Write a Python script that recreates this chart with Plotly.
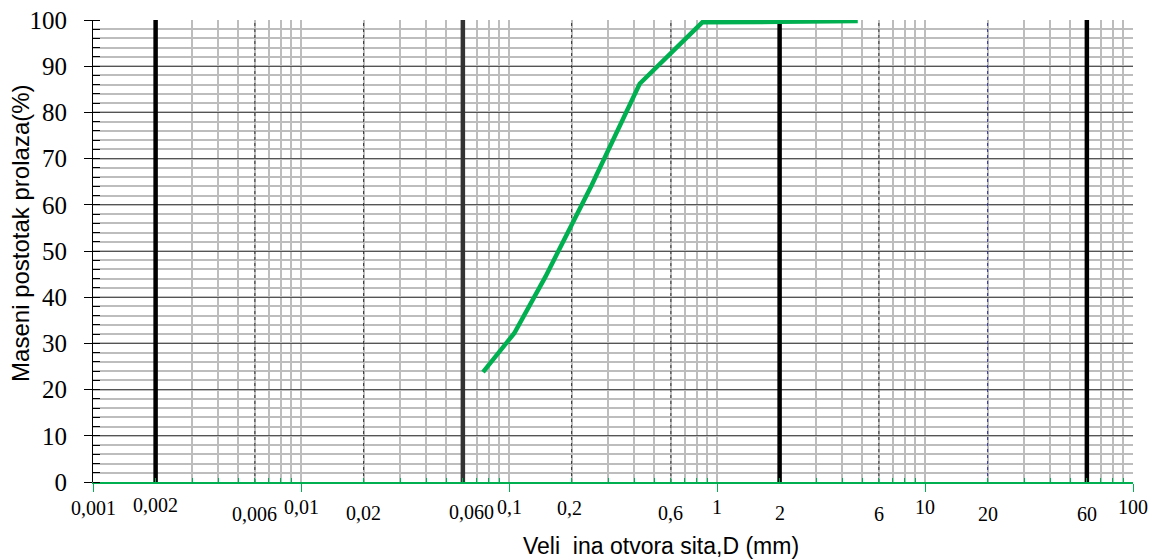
import math
import plotly.graph_objects as go

# ---------------- data ----------------
sieve_mm = [0.075, 0.106, 0.15, 0.25, 0.425, 0.85, 2.0, 4.75]
passing_pct = [23.8, 32.2, 44.5, 64.3, 86.2, 99.5, 99.6, 99.8]

x_tick_values = [0.001, 0.002, 0.006, 0.01, 0.02, 0.06, 0.1, 0.2, 0.6, 1, 2, 6, 10, 20, 60, 100]
x_tick_labels = ["0,001", "0,002", "0,006", "0,01", "0,02", "0,060", "0,1", "0,2",
                 "0,6", "1", "2", "6", "10", "20", "60", "100"]
y_tick_values = list(range(0, 101, 10))

decades = [0.001, 0.01, 0.1, 1, 10, 100]
minor_x_values = [m * d for d in decades[:-1] for m in range(2, 10)]

boundary_thick_black = [0.002, 2, 60]
boundary_thick_dark = [0.06]
boundary_dotted_dark = [0.006, 0.02, 0.2, 0.6, 6]
boundary_dotted_blue = [20]

x_title = "Veli\u00a0\u00a0ina otvora sita,D (mm)"
y_title = "Maseni postotak prolaza(%)"

# ---------------- styling ----------------
GREEN = "#00B050"
SERIF = "Liberation Serif"
SANS = "Liberation Sans"

# vertical pixel offset of each x label centre below the axis (staggered rows)
label_shift = {"0,001": -26, "0,002": -23, "0,006": -32, "0,01": -25, "0,02": -31,
               "0,060": -30, "0,1": -25, "0,2": -26, "0,6": -31, "1": -25, "2": -31,
               "6": -32, "10": -25, "20": -32, "60": -32, "100": -25}
label_xshift = {"0,060": 9, "0,2": -2}


def vlines(vals):
    xs, ys = [], []
    for v in vals:
        xs += [v, v, None]
        ys += [0, 100, None]
    return xs, ys


fig = go.Figure()

for vals, color, width, dash in [
    (boundary_dotted_dark, "#333333", 1, "dot"),
    (boundary_dotted_blue, "#3030a0", 1, "dot"),
    (boundary_thick_dark, "#333333", 4.5, "solid"),
    (boundary_thick_black, "#000000", 4.5, "solid"),
]:
    xs, ys = vlines(vals)
    fig.add_trace(go.Scatter(x=xs, y=ys, mode="lines", hoverinfo="skip",
                             line=dict(color=color, width=width, dash=dash),
                             showlegend=False))

fig.add_trace(go.Scatter(x=sieve_mm, y=passing_pct, mode="lines",
                         line=dict(color=GREEN, width=4.5), showlegend=False))

# page body has an 8px default margin, so the figure is sized to fit inside
fig.update_layout(
    width=1149, height=552,
    margin=dict(l=85, r=24, t=12, b=78),
    paper_bgcolor="white", plot_bgcolor="white",
    showlegend=False,
)

fig.update_xaxes(
    type="log", range=[-3, 2], automargin=False,
    tickmode="array", tickvals=decades, showticklabels=False,
    ticks="outside", ticklen=8, tickcolor=GREEN, tickwidth=1,
    showgrid=True, gridcolor="#bdbdbd", gridwidth=2,
    showline=True, linecolor=GREEN, linewidth=1.5,
    zeroline=False,
    minor=dict(tickmode="array", tickvals=minor_x_values, ticks="inside",
               ticklen=4, tickcolor=GREEN, tickwidth=1,
               showgrid=True, gridcolor="#bdbdbd", gridwidth=2),
)

fig.update_yaxes(
    range=[0, 100], automargin=False,
    tickmode="array", tickvals=y_tick_values,
    ticks="outside", ticklen=8, tickcolor="black", tickwidth=1,
    tickfont=dict(family=SERIF, size=25, color="black"),
    ticklabelstandoff=12, ticklabeloverflow="allow",
    showgrid=True, gridcolor="#555555", gridwidth=1,
    showline=True, linecolor="black", linewidth=1,
    zeroline=False,
    minor=dict(dtick=2, ticks="inside", ticklen=7, tickcolor="black", tickwidth=1,
               showgrid=True, gridcolor="#bdbdbd", gridwidth=2),
)

annotations = []
for v, lab in zip(x_tick_values, x_tick_labels):
    annotations.append(dict(
        x=math.log10(v), xref="x", y=0, yref="paper",
        text=lab, showarrow=False, xanchor="center", yanchor="middle",
        yshift=label_shift.get(lab, -26), xshift=label_xshift.get(lab, 0),
        font=dict(family=SERIF, size=20, color="black"),
    ))

annotations.append(dict(
    x=0.5466, xref="paper", y=0, yref="paper", text=x_title, showarrow=False,
    xanchor="center", yanchor="middle", yshift=-64,
    font=dict(family=SANS, size=23, color="black"),
))
annotations.append(dict(
    x=0, xref="paper", y=0.537, yref="paper", text=y_title, showarrow=False,
    xanchor="center", yanchor="middle", xshift=-72, textangle=-90,
    font=dict(family=SANS, size=24, color="black"),
))
fig.update_layout(annotations=annotations)

fig.write_html("out.html")
